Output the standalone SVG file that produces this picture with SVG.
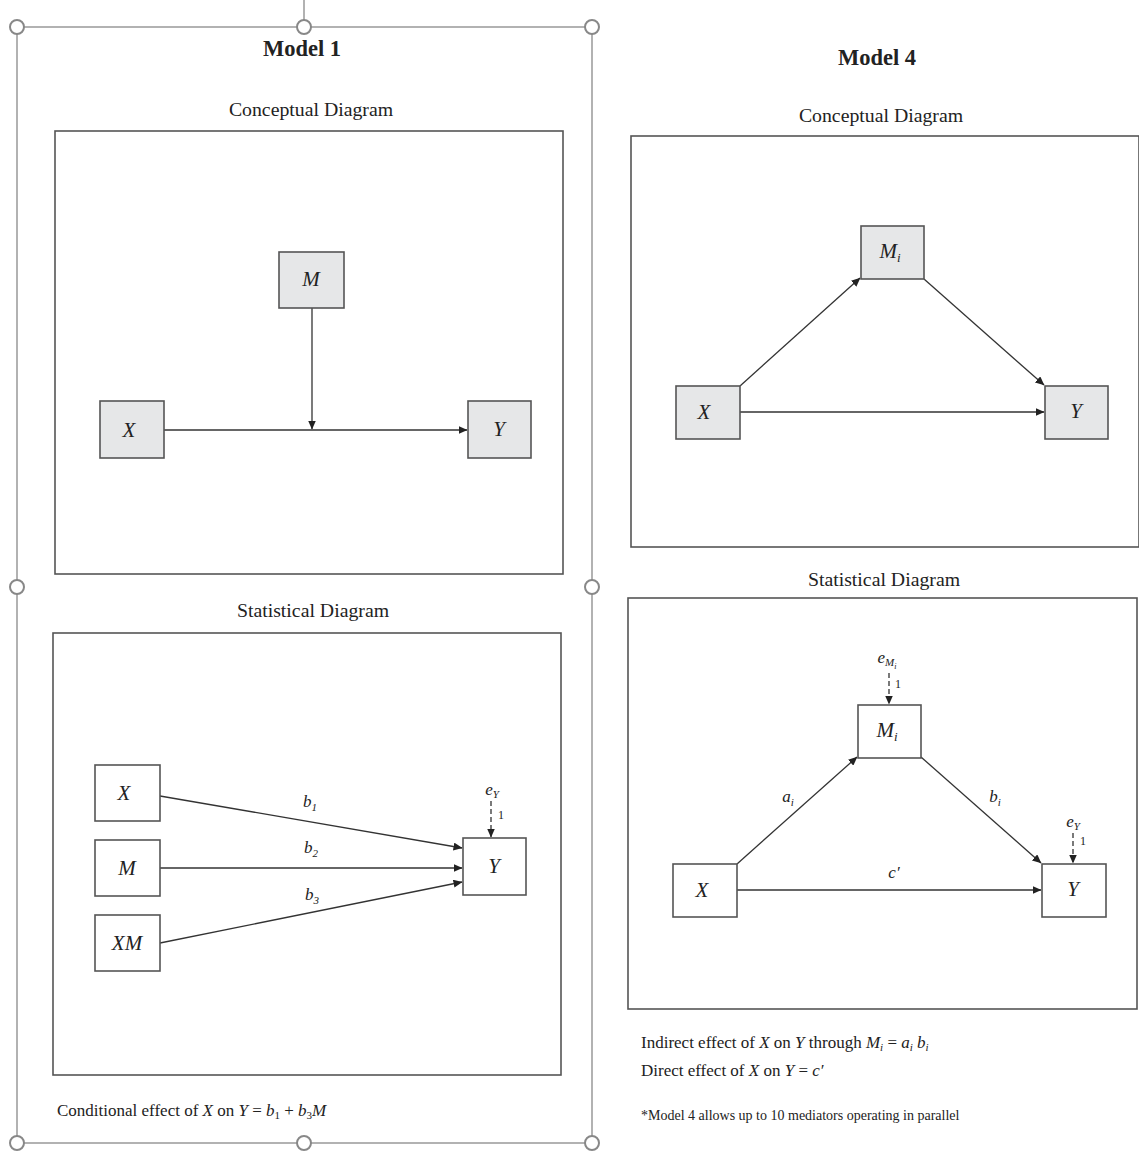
<svg xmlns="http://www.w3.org/2000/svg" width="1139" height="1154" viewBox="0 0 1139 1154">
  <style>
    text { font-family: "Liberation Serif", "Times New Roman", serif; fill: #222; }
    .title { font-size: 22.5px; font-weight: bold; text-anchor: middle; }
    .head { font-size: 19.8px; text-anchor: middle; }
    .lab { font-size: 21px; font-style: italic; text-anchor: middle; }
    .small { font-size: 17px; font-style: italic; text-anchor: middle; }
    .one { font-size: 12px; text-anchor: middle; }
    .note { font-size: 17px; }
    .foot { font-size: 14px; }
    .it { font-style: italic; }
    .panel { fill: none; stroke: #555; stroke-width: 1.6; }
    .cnode { fill: #e6e7e8; stroke: #555; stroke-width: 1.6; }
    .snode { fill: #fff; stroke: #555; stroke-width: 1.6; }
    .edge { fill: none; stroke: #333; stroke-width: 1.3; marker-end: url(#arrow); }
    .err { fill: none; stroke: #333; stroke-width: 1.3; stroke-dasharray: 5 3; marker-end: url(#arrow); }
    .frame { fill: none; stroke: #999; stroke-width: 1.5; }
    .handle { fill: #fff; stroke: #888; stroke-width: 2; }
  </style>
  <defs>
    <marker id="arrow" markerWidth="9" markerHeight="8" refX="8.5" refY="4" orient="auto" markerUnits="userSpaceOnUse">
      <path d="M0,0 L9,4 L0,8 Z" fill="#222"/>
    </marker>
  </defs>

  <rect width="1139" height="1154" fill="#fff"/>

  <!-- selection frame around Model 1 -->
  <g id="selection">
    <line class="frame" x1="304" y1="0" x2="304" y2="27"/>
    <rect class="frame" x="17" y="27" width="575" height="1116"/>
    <circle class="handle" cx="17" cy="27" r="7"/>
    <circle class="handle" cx="304" cy="27" r="7"/>
    <circle class="handle" cx="592" cy="27" r="7"/>
    <circle class="handle" cx="17" cy="587" r="7"/>
    <circle class="handle" cx="592" cy="587" r="7"/>
    <circle class="handle" cx="17" cy="1143" r="7"/>
    <circle class="handle" cx="304" cy="1143" r="7"/>
    <circle class="handle" cx="592" cy="1143" r="7"/>
  </g>

  <!-- headings and panels -->
  <g id="headings">
    <text class="title" x="302" y="56">Model 1</text>
    <text class="head" x="311" y="116">Conceptual Diagram</text>
    <text class="head" x="313" y="617">Statistical Diagram</text>
    <text class="title" x="877" y="65">Model 4</text>
    <text class="head" x="881" y="122">Conceptual Diagram</text>
    <text class="head" x="884" y="586">Statistical Diagram</text>
  </g>
  <g id="panels">
    <rect class="panel" x="55" y="131" width="508" height="443"/>
    <rect class="panel" x="53" y="633" width="508" height="442"/>
    <rect class="panel" x="631" y="136" width="508" height="411"/>
    <rect class="panel" x="628" y="598" width="509" height="411"/>
  </g>

  <!-- connectors -->
  <g id="connectors">
    <!-- Model 1 conceptual -->
    <line class="edge" x1="164" y1="430" x2="467" y2="430"/>
    <line class="edge" x1="312" y1="308" x2="312" y2="429"/>
    <!-- Model 1 statistical -->
    <line class="edge" x1="160" y1="796" x2="462" y2="848"/>
    <line class="edge" x1="160" y1="868" x2="462" y2="868"/>
    <line class="edge" x1="160" y1="943" x2="462" y2="882"/>
    <line class="err" x1="491" y1="801" x2="491" y2="837"/>
    <!-- Model 4 conceptual -->
    <line class="edge" x1="740" y1="386" x2="860" y2="278"/>
    <line class="edge" x1="924" y1="279" x2="1044" y2="385"/>
    <line class="edge" x1="740" y1="412" x2="1044" y2="412"/>
    <!-- Model 4 statistical -->
    <line class="edge" x1="737" y1="864" x2="857" y2="757"/>
    <line class="edge" x1="921" y1="757" x2="1041" y2="863"/>
    <line class="edge" x1="737" y1="890" x2="1041" y2="890"/>
    <line class="err" x1="889" y1="673" x2="889" y2="704"/>
    <line class="err" x1="1073" y1="833" x2="1073" y2="863"/>
  </g>

  <!-- Model 1 conceptual nodes -->
  <g id="m1c-M"><rect class="cnode" x="279" y="252" width="65" height="56"/><text class="lab" x="311" y="286">M</text></g>
  <g id="m1c-X"><rect class="cnode" x="100" y="401" width="64" height="57"/><text class="lab" x="129" y="437">X</text></g>
  <g id="m1c-Y"><rect class="cnode" x="468" y="401" width="63" height="57"/><text class="lab" x="499" y="436">Y</text></g>

  <!-- Model 1 statistical nodes -->
  <g id="m1s-X"><rect class="snode" x="95" y="765" width="65" height="56"/><text class="lab" x="124" y="800">X</text></g>
  <g id="m1s-M"><rect class="snode" x="95" y="840" width="65" height="56"/><text class="lab" x="127" y="875">M</text></g>
  <g id="m1s-XM"><rect class="snode" x="95" y="915" width="65" height="56"/><text class="lab" x="127" y="950">XM</text></g>
  <g id="m1s-Y"><rect class="snode" x="463" y="838" width="63" height="57"/><text class="lab" x="494" y="873">Y</text></g>
  <g id="m1s-labels">
    <text class="small" x="310" y="807">b<tspan font-size="11" dy="4">1</tspan></text>
    <text class="small" x="311" y="853">b<tspan font-size="11" dy="4">2</tspan></text>
    <text class="small" x="312" y="900">b<tspan font-size="11" dy="4">3</tspan></text>
    <text class="small" x="492" y="795">e<tspan font-size="11" dy="3">Y</tspan></text>
    <text class="one" x="501" y="819">1</text>
  </g>

  <!-- Model 4 conceptual nodes -->
  <g id="m4c-M"><rect class="cnode" x="861" y="226" width="63" height="53"/><text class="lab" x="890" y="258">M<tspan font-size="13" dy="4">i</tspan></text></g>
  <g id="m4c-X"><rect class="cnode" x="676" y="386" width="64" height="53"/><text class="lab" x="704" y="419">X</text></g>
  <g id="m4c-Y"><rect class="cnode" x="1045" y="386" width="63" height="53"/><text class="lab" x="1076" y="418">Y</text></g>

  <!-- Model 4 statistical nodes -->
  <g id="m4s-M"><rect class="snode" x="858" y="705" width="63" height="53"/><text class="lab" x="887" y="737">M<tspan font-size="13" dy="4">i</tspan></text></g>
  <g id="m4s-X"><rect class="snode" x="673" y="864" width="64" height="53"/><text class="lab" x="702" y="897">X</text></g>
  <g id="m4s-Y"><rect class="snode" x="1042" y="864" width="64" height="53"/><text class="lab" x="1073" y="896">Y</text></g>
  <g id="m4s-labels">
    <text class="small" x="788" y="802">a<tspan font-size="11" dy="4">i</tspan></text>
    <text class="small" x="995" y="802">b<tspan font-size="11" dy="4">i</tspan></text>
    <text class="small" x="894" y="878">c′</text>
    <text class="small" x="887" y="663">e<tspan font-size="11" dy="3">M</tspan><tspan font-size="8" dy="3">i</tspan></text>
    <text class="one" x="898" y="688">1</text>
    <text class="small" x="1073" y="827">e<tspan font-size="11" dy="3">Y</tspan></text>
    <text class="one" x="1083" y="845">1</text>
  </g>

  <!-- effect notes -->
  <g id="notes">
    <text class="note" x="57" y="1116">Conditional effect of <tspan class="it">X</tspan> on <tspan class="it">Y</tspan> = <tspan class="it">b</tspan><tspan font-size="11" dy="3">1</tspan><tspan dy="-3"> + </tspan><tspan class="it">b</tspan><tspan font-size="11" dy="3">3</tspan><tspan class="it" dy="-3">M</tspan></text>
    <text class="note" x="641" y="1048">Indirect effect of <tspan class="it">X</tspan> on <tspan class="it">Y</tspan> through <tspan class="it">M</tspan><tspan class="it" font-size="11" dy="3">i</tspan><tspan dy="-3"> = </tspan><tspan class="it">a</tspan><tspan class="it" font-size="11" dy="3">i</tspan><tspan dy="-3"> </tspan><tspan class="it">b</tspan><tspan class="it" font-size="11" dy="3">i</tspan></text>
    <text class="note" x="641" y="1076">Direct effect of <tspan class="it">X</tspan> on <tspan class="it">Y</tspan> = <tspan class="it">c′</tspan></text>
    <text class="foot" x="641" y="1120">*Model 4 allows up to 10 mediators operating in parallel</text>
  </g>
</svg>
